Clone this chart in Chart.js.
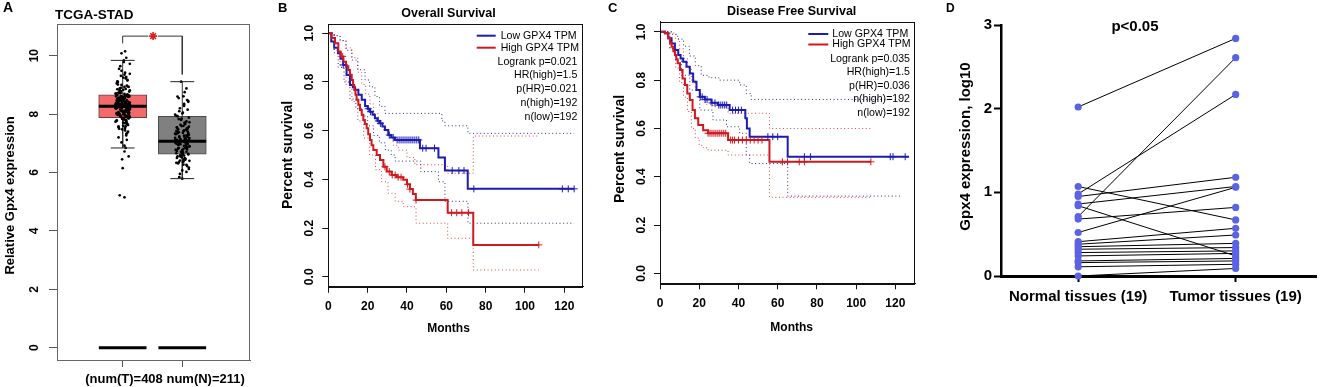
<!DOCTYPE html>
<html>
<head>
<meta charset="utf-8">
<title>GPX4 expression and survival</title>
<script src="https://cdn.jsdelivr.net/npm/chart.js@4.4.1/dist/chart.umd.min.js"></script>
<style>
html,body{margin:0;padding:0;background:#fff;}
body{position:relative;width:1320px;height:387px;overflow:hidden;}
canvas{position:absolute;top:0;}
</style>
</head>
<body>
<canvas id="panelA" width="258" height="387" style="left:0px;width:258px;height:387px"></canvas>
<canvas id="panelB" width="330" height="387" style="left:258px;width:330px;height:387px"></canvas>
<canvas id="panelC" width="330" height="387" style="left:590px;width:330px;height:387px"></canvas>
<canvas id="panelD" width="380" height="387" style="left:940px;width:380px;height:387px"></canvas>
<script>
// ================= DATA =================
// ---- Panel A: TCGA-STAD box plot ----
const boxGroups = ['Tumor', 'Normal'];
const boxPos = [1, 2];
const boxQ1 = [7.88, 6.63];
const boxMedian = [8.27, 7.07];
const boxQ3 = [8.66, 7.92];
const whiskerLow = [6.84, 5.79];
const whiskerHigh = [9.84, 9.11];
const yTicksA = [0, 2, 4, 6, 8, 10];
const xLabelA = '(num(T)=408 num(N)=211)';
const sigBracket = [10.42, 10.67, 9.36]; // left end, bar level, right end
const tumorExpr = [
8.27,8.41,7.95,8.62,8.13,9.05,7.71,8.33,8.88,7.52,8.19,8.47,9.31,7.98,8.55,8.06,7.36,8.71,8.24,9.12,
7.84,8.39,8.02,8.93,7.63,8.29,8.58,7.91,9.48,8.15,8.36,7.44,8.79,8.09,8.51,7.77,8.98,8.22,9.22,7.58,
8.44,8.31,7.89,8.67,8.11,9.64,7.27,8.38,8.83,8.04,8.26,7.69,8.6,8.17,9.01,7.96,8.49,8.34,7.12,8.74,
8.2,8.56,7.81,9.17,8.0,8.43,7.48,8.69,8.28,9.38,7.93,8.12,8.53,7.6,8.86,8.25,8.37,7.03,8.64,9.55,
8.08,8.46,7.87,8.77,8.18,9.27,7.74,8.32,8.59,7.99,8.95,8.21,6.92,8.4,9.72,7.55,8.14,8.5,7.85,9.08,
8.3,8.72,7.67,8.23,9.42,8.05,8.61,7.32,8.35,9.84,8.16,7.9,8.54,6.84,8.45,9.15,7.79,8.27,8.81,7.2,
10.08,10.15,9.93,6.72,6.55,6.45,6.15,5.22,5.15,9.78,
8.35,8.02,8.58,7.92,8.44,8.18,8.71,7.83,8.29,8.52,8.1,8.63,7.97,8.38,8.24,8.79,7.75,8.47,8.06,8.33,
8.56,7.88,8.2,8.68,8.12,8.41,7.94,8.5,8.27,8.85,7.7,8.15,8.6,8.03,8.36,8.22,8.74,7.86,8.45,8.09,
8.31,8.66,7.99,8.53,8.17,8.9,7.8,8.4,8.26,8.57,8.0,8.7,8.13,8.34,7.9,8.48,8.21,8.62,7.96,8.39,
9.0,7.65,8.3,8.55,8.07,8.44,8.19,8.82,7.78,8.28,9.25,7.4,8.6,8.11,9.1,7.58,8.37,8.93,7.5,9.35];
const tumorJitter = [
0.03,-0.08,0.11,-0.02,0.06,-0.1,0.01,0.09,-0.05,0.04,-0.11,0.07,-0.03,0.1,-0.07,0.02,0.08,-0.04,0.05,-0.09,
-0.01,0.12,-0.06,0.03,0.09,-0.12,0.0,0.06,-0.02,0.11,-0.08,0.04,-0.05,0.1,0.02,-0.1,0.07,-0.03,0.05,-0.07,
0.08,-0.01,0.12,-0.09,0.03,-0.04,0.06,-0.11,0.01,0.09,-0.06,0.04,-0.02,0.1,-0.08,0.05,0.0,-0.12,0.07,-0.03,
0.11,-0.05,0.02,0.08,-0.1,0.06,-0.01,0.03,-0.07,0.12,-0.04,0.09,-0.09,0.01,0.05,-0.11,0.1,-0.02,0.04,-0.06,
0.07,-0.08,0.0,0.11,-0.03,0.06,-0.12,0.02,0.09,-0.05,0.08,-0.01,0.03,-0.1,0.12,-0.07,0.05,-0.04,0.1,-0.09,
0.01,-0.06,0.07,-0.02,0.04,0.11,-0.11,0.06,-0.08,0.02,0.09,-0.03,0.0,0.05,-0.05,0.08,-0.1,0.03,0.12,-0.07,
-0.02,0.04,0.06,0.03,0.1,-0.01,0.0,-0.05,0.03,0.02,
0.05,-0.09,0.02,0.1,-0.04,0.07,-0.11,0.0,0.08,-0.06,-0.02,0.11,-0.08,0.04,0.09,-0.03,0.06,-0.1,0.01,0.12,
-0.07,0.03,-0.12,0.08,-0.01,0.05,0.1,-0.05,0.02,-0.09,0.07,-0.04,0.11,-0.1,0.0,0.06,-0.07,0.09,-0.02,0.04,
-0.11,0.08,0.01,-0.06,0.12,-0.03,0.05,-0.08,0.1,-0.01,0.03,-0.12,0.07,-0.05,0.09,0.0,-0.09,0.06,-0.04,0.11,
-0.02,0.08,-0.1,0.04,-0.07,0.02,0.12,-0.05,0.06,-0.11,0.01,0.09,-0.03,0.07,-0.08,0.05,-0.01,0.1,-0.06,0.03];
const normalExpr = [
7.05,6.71,7.42,6.38,7.88,6.95,7.21,6.52,8.15,7.1,6.84,7.63,6.22,7.34,6.67,8.42,7.0,6.45,7.55,6.9,
7.18,6.6,8.05,6.78,7.27,6.31,7.71,7.08,6.56,8.61,6.99,7.46,6.12,7.14,6.73,7.93,6.87,7.38,6.48,8.28,
7.03,6.64,7.59,6.02,7.24,6.81,8.75,7.12,6.4,7.8,6.93,7.31,6.58,8.48,7.06,6.69,7.5,5.95,7.16,6.76,
8.02,7.29,6.35,7.67,6.97,8.88,6.62,7.4,6.27,7.98,7.09,6.53,7.22,5.84,8.35,6.89,7.53,6.44,9.11,7.01,
6.82,7.36,6.17,8.2,7.13,6.66,7.75,5.79,8.55,7.44,
7.02,6.74,7.35,6.58,7.6,6.86,7.19,6.49,7.83,7.11,6.68,7.47,6.33,7.26,6.9,8.1,6.77,7.4,6.55,7.66,
7.07,6.63,7.52,6.41,7.3,6.95,8.32,6.71,7.15,6.5,7.72,6.84,7.42,6.26,7.94,7.04,6.6,7.57,6.07,8.6,
6.98,7.33,6.46,7.85,6.79,7.2,8.45,6.91,7.48,6.36];
const normalJitter = [
-0.04,0.07,-0.1,0.02,0.11,-0.06,0.04,-0.01,0.09,-0.12,0.05,-0.03,0.08,-0.08,0.0,0.1,-0.05,0.03,-0.09,0.06,
0.12,-0.02,0.01,-0.11,0.07,-0.07,0.04,0.09,-0.04,0.02,-0.1,0.06,0.11,-0.03,0.0,-0.08,0.08,-0.06,0.05,0.03,
-0.12,0.1,-0.01,0.07,-0.05,0.02,0.04,-0.09,0.12,-0.02,0.06,-0.11,0.03,0.08,-0.07,0.01,0.09,-0.04,0.05,-0.1,
0.0,0.11,-0.06,0.04,-0.03,0.07,0.1,-0.08,0.02,-0.12,0.06,-0.01,0.09,-0.05,0.03,0.12,-0.09,0.05,-0.02,0.08,
-0.07,0.01,0.11,-0.04,0.04,-0.1,0.07,0.0,-0.06,0.03,
0.06,-0.09,0.1,-0.03,0.02,0.08,-0.12,0.04,-0.06,0.11,-0.01,0.07,-0.1,0.03,0.12,-0.05,0.0,0.09,-0.08,0.05,
-0.11,0.01,0.08,-0.04,0.1,-0.07,0.03,-0.02,0.06,-0.09,0.12,-0.06,0.02,0.07,-0.1,0.04,-0.03,0.11,0.0,-0.08,
0.09,-0.12,0.05,-0.01,0.08,-0.05,0.1,0.03,-0.07,0.01];

// ---- Panels B & C: Kaplan-Meier ----
const kmSeries = ['Low GPX4 TPM', 'High GPX4 TPM'];
const kmXTicks = [0, 20, 40, 60, 80, 100, 120];
const kmYTicks = [0, 0.2, 0.4, 0.6, 0.8, 1.0];
const statsB = ['Logrank p=0.021', 'HR(high)=1.5', 'p(HR)=0.021', 'n(high)=192', 'n(low)=192'];
const statsC = ['Logrank p=0.035', 'HR(high)=1.5', 'p(HR)=0.036', 'n(high)=192', 'n(low)=192'];

// Overall survival (B)
const osLowT = [0,1.5,3,4.9,6.2,7.6,9.3,11,12.5,13.6,15.3,17,18.7,20,21.2,22.5,23.7,25,26.3,27.5,28.8,30.5,32,33.9,46.6,56,59.3,70.9,125];
const osLowS = [1,0.966,0.94,0.918,0.895,0.87,0.829,0.788,0.778,0.768,0.747,0.727,0.701,0.69,0.678,0.665,0.651,0.64,0.63,0.617,0.603,0.582,0.572,0.562,0.528,0.49,0.436,0.361,0.361];
const osHighT = [0,1.7,3.4,5.1,6.3,7.6,9,10.2,11,11.9,12.6,13.2,13.8,14.4,15.3,16.1,17,17.8,18.6,19.5,20.3,21.2,22,22.9,24.6,26.3,28,29.7,32.2,34.8,38.1,40,41.5,43,44.5,60.7,73.7,107];
const osHighS = [1,0.98,0.959,0.924,0.905,0.883,0.865,0.849,0.83,0.808,0.788,0.767,0.747,0.727,0.706,0.685,0.665,0.644,0.627,0.61,0.585,0.562,0.54,0.521,0.5,0.48,0.452,0.432,0.418,0.409,0.398,0.38,0.36,0.34,0.315,0.263,0.131,0.131];
const osLowUpT = [0,3,6,9,12,15,18.7,21,23.7,26,28.8,57.7,59.3,71,125];
const osLowUpS = [1,0.99,0.97,0.93,0.89,0.85,0.808,0.78,0.74,0.7,0.671,0.64,0.62,0.589,0.589];
const osLowLoT = [0,3,5,8,11,14,17,20,23,26,29,32,34,47,56,59.3,71,125];
const osLowLoS = [1,0.92,0.86,0.8,0.73,0.69,0.66,0.62,0.58,0.55,0.52,0.5,0.475,0.432,0.39,0.31,0.22,0.22];
const osHighUpT = [0,3,6,9,12,15,17,19,21.2,23,25.4,28,30.5,33,35.6,40,44,60.7,73.7,107];
const osHighUpS = [1,0.99,0.97,0.94,0.9,0.84,0.79,0.75,0.71,0.67,0.63,0.6,0.57,0.54,0.52,0.49,0.46,0.425,0.578,0.578];
const osHighLoT = [0,3,6,9,12,15,18,21,24,27,30.4,34,38.1,44.6,60.7,73.7,107];
const osHighLoS = [1,0.93,0.86,0.79,0.72,0.64,0.57,0.5,0.44,0.39,0.343,0.31,0.288,0.22,0.158,0.028,0.028];
const osLowCensor = [7.6,20.3,21.5,25.4,26.5,31,33,35,36,37,38,39,40,41,42,43,44,45,46,48,49.7,54,63,66.4,69,74,119,122,125];
const osHighCensor = [7.3,28.8,31,32.5,34,35.5,37,40.3,41.5,44.6,62.7,65.3,67.9,71.3,107];

// Disease free survival (C)
const dfsLowT = [0,2.5,4.2,5.9,7.6,9.3,10.5,11.8,13.5,15.2,16.9,18.6,20.3,22.8,26.2,29.6,35.5,43.5,44.3,45.7,65.1,126.9];
const dfsLowS = [1,0.994,0.973,0.952,0.925,0.904,0.89,0.876,0.855,0.828,0.793,0.759,0.731,0.72,0.706,0.697,0.676,0.642,0.6,0.566,0.483,0.483];
const dfsHighT = [0,2.5,4.2,5.1,5.9,6.8,7.6,8.3,9,10.2,11.5,12.7,13.9,15.2,16.6,17.8,19.5,22,24.5,34.7,55.8,107.5];
const dfsHighS = [1,0.994,0.973,0.955,0.938,0.92,0.904,0.887,0.87,0.842,0.807,0.78,0.745,0.718,0.676,0.642,0.614,0.593,0.58,0.552,0.462,0.462];
const dfsLowUpT = [0,6,9,12,15,18,21,25,30,34,40.6,44,46.5,123];
const dfsLowUpS = [1,0.99,0.97,0.94,0.9,0.86,0.82,0.81,0.8,0.8,0.78,0.745,0.72,0.72];
const dfsLowLoT = [0,5,8,11,15.2,20.3,27,33.9,40.6,44,45.7,65.1,123];
const dfsLowLoS = [1,0.93,0.88,0.82,0.759,0.676,0.635,0.607,0.58,0.49,0.455,0.32,0.32];
const dfsHighUpT = [0,6,8,10,12,14,16,18,20,23,27,34.7,55.8,107.5];
const dfsHighUpS = [1,0.995,0.97,0.93,0.89,0.85,0.8,0.76,0.72,0.7,0.69,0.663,0.6,0.6];
const dfsHighLoT = [0,5,8,10,12,14,16,18,20,22,24.5,34.7,55.8,107.5];
const dfsHighLoS = [1,0.93,0.85,0.79,0.73,0.67,0.6,0.56,0.53,0.52,0.51,0.49,0.315,0.315];
const dfsLowCensor = [20.5,21.5,23,24,26.5,28,30,31,32,33,34,37,38.5,40,41.5,55,57.5,60,73.6,76.7,117.4,118.8,125];
const dfsHighCensor = [24.5,25.5,26.5,27.5,28.5,29.5,30.5,31.5,32.5,33.5,36,37,38,40,42,44,46,48,50,52,62.4,65,71,73.6,107.5];

// ---- Panel D: paired samples ----
const dCategories = ['Normal tissues (19)', 'Tumor tissues (19)'];
const dYTicks = [0, 1, 2, 3];
const dNormal = [2.02,1.07,0.98,0.95,0.86,0.84,0.71,0.68,0.52,0.41,0.38,0.35,0.32,0.28,0.24,0.18,0.16,0.11,0.00];
const dTumor  = [2.84,0.67,2.17,1.18,1.07,0.24,2.61,0.82,1.06,0.57,0.49,0.39,0.34,0.30,0.27,0.21,0.18,0.14,0.09];
const dPValue = 'p<0.05';

// ================= RENDER =================
const FF = "'Liberation Sans', Arial, Helvetica, sans-serif";
Chart.defaults.font.family = FF;
Chart.defaults.color = '#000';
const BLUE = 'rgb(28,28,178)';
const RED = 'rgb(208,24,30)';
const BLUE_CI = 'rgb(45,45,140)';
const RED_CI = 'rgb(212,70,70)';

const annot = {
  id: 'annot',
  afterDraw(chart, args, opts) {
    const ctx = chart.ctx;
    const ca = chart.chartArea;
    ctx.save();
    if (opts.box) {
      ctx.strokeStyle = opts.box; ctx.lineWidth = 1;
      ctx.strokeRect(Math.round(ca.left) + 0.5, Math.round(ca.top) + 0.5,
                     Math.round(ca.right - ca.left) - 1, Math.round(ca.bottom - ca.top));
    }
    (opts.items || []).forEach(it => {
      if (it.line) {
        ctx.beginPath(); ctx.strokeStyle = it.color; ctx.lineWidth = it.width || 1;
        ctx.moveTo(it.line[0], it.line[1]); ctx.lineTo(it.line[2], it.line[3]); ctx.stroke();
        return;
      }
      ctx.save();
      ctx.translate(it.x, it.y);
      if (it.rot) ctx.rotate(it.rot * Math.PI / 180);
      ctx.font = it.font + ' ' + FF;
      ctx.fillStyle = it.color || '#000';
      ctx.textAlign = it.align || 'center';
      ctx.textBaseline = 'middle';
      ctx.fillText(it.text, 0, 0);
      ctx.restore();
    });
    ctx.restore();
  }
};

const baseOpts = {
  responsive: false, animation: false, devicePixelRatio: 1, events: [],
};
const fixedTicks = arr => s => { s.ticks = arr.map(v => ({ value: v })); };

// ---------- Panel A ----------
(function () {
  const ds = [];
  ds.push({
    type: 'bar',
    data: boxPos.map((c, i) => ({ x: c, y: [boxQ1[i], boxQ3[i]] })),
    backgroundColor: ['#F26A6A', '#808080'],
    borderColor: ['#6a4040', '#4a4a4a'],
    borderWidth: 1, borderSkipped: false, barThickness: 48, order: 9
  });
  boxPos.forEach((c, i) => {
    ds.push({ type: 'line', data: [{x: c, y: boxQ3[i]}, {x: c, y: whiskerHigh[i]}], borderColor: '#333', borderWidth: 1, pointRadius: 0, order: 8 });
    ds.push({ type: 'line', data: [{x: c, y: boxQ1[i]}, {x: c, y: whiskerLow[i]}], borderColor: '#333', borderWidth: 1, pointRadius: 0, order: 8 });
    ds.push({ type: 'line', data: [{x: c - 0.2, y: whiskerHigh[i]}, {x: c + 0.2, y: whiskerHigh[i]}], borderColor: '#222', borderWidth: 1, pointRadius: 0, order: 2 });
    ds.push({ type: 'line', data: [{x: c - 0.2, y: whiskerLow[i]}, {x: c + 0.2, y: whiskerLow[i]}], borderColor: '#222', borderWidth: 1, pointRadius: 0, order: 2 });
    ds.push({ type: 'line', data: [{x: c - 0.4, y: boxMedian[i]}, {x: c + 0.4, y: boxMedian[i]}], borderColor: '#000', borderWidth: 3, pointRadius: 0, order: 1 });
    ds.push({ type: 'line', data: [{x: c - 0.4, y: 0}, {x: c + 0.4, y: 0}], borderColor: '#000', borderWidth: 3, pointRadius: 0, order: 1 });
  });
  ds.push({ type: 'scatter', data: tumorExpr.map((v, i) => ({ x: boxPos[0] + tumorJitter[i], y: v })),
            pointRadius: 1.35, backgroundColor: '#000', borderColor: '#000', borderWidth: 0, order: 3 });
  ds.push({ type: 'scatter', data: normalExpr.map((v, i) => ({ x: boxPos[1] + normalJitter[i], y: v })),
            pointRadius: 1.35, backgroundColor: '#000', borderColor: '#000', borderWidth: 0, order: 3 });
  ds.push({ type: 'line', data: [
      {x: boxPos[0], y: sigBracket[0]}, {x: boxPos[0], y: sigBracket[1]}, {x: 1.43, y: sigBracket[1]},
      {x: 1.5, y: null},
      {x: 1.59, y: sigBracket[1]}, {x: boxPos[1], y: sigBracket[1]}, {x: boxPos[1], y: sigBracket[2]}],
    borderColor: '#333', borderWidth: 1, pointRadius: 0, spanGaps: false, order: 1 });
  ds.push({ type: 'scatter', data: [{x: 1.51, y: sigBracket[1]}], pointStyle: 'star', pointRadius: 4,
            borderColor: 'rgb(220,30,30)', borderWidth: 1.6, order: 0 });

  new Chart(document.getElementById('panelA'), {
    type: 'bar',
    data: { datasets: ds },
    options: Object.assign({}, baseOpts, {
      layout: { padding: { left: 0, top: 24, right: 8, bottom: 0 } },
      plugins: { legend: { display: false }, tooltip: { enabled: false },
        annot: { box: '#666', items: [
          { text: 'A', x: 3, y: 8.5, font: 'bold 14px', align: 'left' },
          { text: 'TCGA-STAD', x: 55, y: 15.7, font: 'bold 13.5px', align: 'left' },
          { text: 'Relative Gpx4 expression', x: 10, y: 195.5, rot: -90, font: 'bold 13px' },
          { text: xLabelA, x: 165, y: 379, font: 'bold 13px' }
        ] } },
      scales: {
        x: { type: 'linear', min: -0.102, max: 3.136, offset: false, afterBuildTicks: fixedTicks(boxPos),
             ticks: { callback: () => '', autoSkip: false, maxRotation: 0 },
             grid: { drawOnChartArea: false, offset: false, tickLength: 7, color: '#555' },
             border: { color: '#666' }, afterFit: s => { s.height = 27; } },
        y: { type: 'linear', min: -0.42, max: 11.085, afterBuildTicks: fixedTicks(yTicksA),
             ticks: { font: { size: 12, weight: 'bold' }, color: '#000', minRotation: 90, maxRotation: 90,
                      crossAlign: 'center', padding: 8, callback: v => String(v) },
             grid: { drawOnChartArea: false, tickLength: 8, color: '#555' },
             border: { color: '#666' }, afterFit: s => { s.width = 57; } }
      }
    }),
    plugins: [annot]
  });
})();

// ---------- Panels B & C ----------
const km = (T, S) => T.map((t, i) => ({ x: t, y: S[i] }));
const stepAt = (T, S, t) => { let v = S[0]; for (let i = 0; i < T.length; i++) { if (T[i] <= t) v = S[i]; } return v; };

function kmChart(id, cfg) {
  const line = (T, S, color, w, dash, order) => ({
    type: 'line', data: km(T, S), stepped: true, borderColor: color, borderWidth: w,
    borderDash: dash || [], pointRadius: 0, order: order, tension: 0
  });
  const ds = [
    line(cfg.lowUp[0], cfg.lowUp[1], BLUE_CI, 1, [1, 2.6], 6),
    line(cfg.lowLo[0], cfg.lowLo[1], BLUE_CI, 1, [1, 2.6], 6),
    line(cfg.highUp[0], cfg.highUp[1], RED_CI, 1, [1, 2.6], 6),
    line(cfg.highLo[0], cfg.highLo[1], RED_CI, 1, [1, 2.6], 6),
    line(cfg.low[0], cfg.low[1], BLUE, 2, null, 3),
    line(cfg.high[0], cfg.high[1], RED, 2, null, 2),
    { type: 'scatter', data: cfg.lowCens.map(t => ({ x: t, y: stepAt(cfg.low[0], cfg.low[1], t) })),
      pointStyle: 'cross', pointRadius: 3.5, borderColor: BLUE, borderWidth: 1, order: 1 },
    { type: 'scatter', data: cfg.highCens.map(t => ({ x: t, y: stepAt(cfg.high[0], cfg.high[1], t) })),
      pointStyle: 'cross', pointRadius: 3.5, borderColor: RED, borderWidth: 1, order: 0 }
  ];
  const L = cfg.leg;
  const items = [
    { text: cfg.letter, x: cfg.letterX, y: 8, font: 'bold 13px', align: 'left' },
    { text: cfg.title, x: cfg.titleX, y: cfg.titleY, font: 'bold 12.5px' },
    { text: 'Percent survival', x: cfg.ylabX, y: cfg.ylabY, rot: -90, font: 'bold 14px' },
    { text: 'Months', x: cfg.titleX, y: cfg.xlabY, font: 'bold 12px' },
    { line: [L.lx1, L.y1, L.lx2, L.y1], color: BLUE, width: 2 },
    { line: [L.lx1, L.y2, L.lx2, L.y2], color: RED, width: 2 },
    { text: kmSeries[0], x: L.tx, y: L.y1, font: '10.6px', align: 'left' },
    { text: kmSeries[1], x: L.tx, y: L.y2, font: '10.6px', align: 'left' }
  ];
  cfg.stats.forEach((s, i) => items.push({ text: s, x: L.rx, y: L.ys[i], font: '10.6px', align: 'right' }));

  new Chart(document.getElementById(id), {
    type: 'line',
    data: { datasets: ds },
    options: Object.assign({}, baseOpts, {
      layout: { padding: { left: 0, top: cfg.top, right: cfg.padR, bottom: 0 } },
      plugins: { legend: { display: false }, tooltip: { enabled: false }, annot: { box: '#111', items: items } },
      scales: {
        x: { type: 'linear', min: 0, max: cfg.xmax, afterBuildTicks: fixedTicks(kmXTicks),
             ticks: { font: { size: 12, weight: 'bold' }, color: '#000', padding: 7, autoSkip: false, maxRotation: 0, callback: v => String(v) },
             grid: { drawOnChartArea: false, tickLength: 6, color: '#111' },
             border: { color: '#111' }, afterFit: s => { s.height = cfg.xh; } },
        y: { type: 'linear', min: cfg.ymin, max: cfg.ymax, afterBuildTicks: fixedTicks(kmYTicks),
             ticks: { font: { size: 12, weight: 'bold' }, color: '#000', minRotation: 90, maxRotation: 90,
                      crossAlign: 'center', padding: 4, callback: v => v.toFixed(1) },
             grid: { drawOnChartArea: false, tickLength: 6, color: '#111' },
             border: { color: '#111' }, afterFit: s => { s.width = cfg.yw; } }
      }
    }),
    plugins: [annot]
  });
}

kmChart('panelB', {
  low: [osLowT, osLowS], high: [osHighT, osHighS],
  lowUp: [osLowUpT, osLowUpS], lowLo: [osLowLoT, osLowLoS],
  highUp: [osHighUpT, osHighUpS], highLo: [osHighLoT, osHighLoS],
  lowCens: osLowCensor, highCens: osHighCensor,
  stats: statsB, letter: 'B', letterX: 20, title: 'Overall Survival', titleX: 190.5, titleY: 14,
  ylabX: 30.3, ylabY: 155, xlabY: 328.3,
  leg: { lx1: 218.7, lx2: 237.7, tx: 242.7, y1: 35.7, y2: 47.7, rx: 319.3, ys: [61.7, 75.3, 89.3, 103.3, 117] },
  top: 24, padR: 5, xh: 100.3, yw: 70.3, xmax: 129.5, ymin: -0.0407, ymax: 1.038
});

kmChart('panelC', {
  low: [dfsLowT, dfsLowS], high: [dfsHighT, dfsHighS],
  lowUp: [dfsLowUpT, dfsLowUpS], lowLo: [dfsLowLoT, dfsLowLoS],
  highUp: [dfsHighUpT, dfsHighUpS], highLo: [dfsHighLoT, dfsHighLoS],
  lowCens: dfsLowCensor, highCens: dfsHighCensor,
  stats: statsC, letter: 'C', letterX: 18, title: 'Disease Free Survival', titleX: 201.7, titleY: 12,
  ylabX: 30, ylabY: 149, xlabY: 327.3,
  leg: { lx1: 218.3, lx2: 238.3, tx: 242.3, y1: 34, y2: 44.5, rx: 320, ys: [59.3, 72, 86, 99.3, 113.3] },
  top: 21.7, padR: 4, xh: 103.7, yw: 70, xmax: 130, ymin: -0.041, ymax: 1.042
});

// ---------- Panel D ----------
(function () {
  const PT = 'rgb(92,98,228)';
  const ds = dNormal.map((n, i) => ({
    type: 'line', data: [{ x: 0, y: n }, { x: 1, y: dTumor[i] }],
    borderColor: '#000', borderWidth: 1, pointRadius: 0, order: 2, clip: false
  }));
  ds.push({ type: 'scatter',
    data: dNormal.map(v => ({ x: 0, y: v })).concat(dTumor.map(v => ({ x: 1, y: v }))),
    pointRadius: 3.6, backgroundColor: PT, borderColor: PT, borderWidth: 0, order: 1, clip: false });

  new Chart(document.getElementById('panelD'), {
    type: 'line',
    data: { datasets: ds },
    options: Object.assign({}, baseOpts, {
      layout: { padding: { left: 0, top: 25, right: 1.7, bottom: 0 } },
      plugins: { legend: { display: false }, tooltip: { enabled: false },
        annot: { items: [
          { text: 'D', x: 6, y: 8.3, font: 'bold 12px', align: 'left' },
          { text: dPValue, x: 195, y: 26.7, font: 'bold 15px' },
          { text: 'Gpx4 expression, log10', x: 26, y: 146.5, rot: -90, font: 'bold 15px' }
        ] } },
      scales: {
        x: { type: 'linear', min: -0.49, max: 1.51, afterBuildTicks: fixedTicks([0, 1]),
             ticks: { font: { size: 15, weight: 'bold' }, color: '#000', padding: 6, autoSkip: false, maxRotation: 0,
                      callback: v => dCategories[v] || '' },
             grid: { drawOnChartArea: false, tickLength: 6, tickWidth: 2, color: '#000' },
             border: { color: '#000', width: 3 }, afterFit: s => { s.height = 111; } },
        y: { type: 'linear', min: 0, max: 3, afterBuildTicks: fixedTicks(dYTicks),
             ticks: { font: { size: 15, weight: 'bold' }, color: '#000', padding: 2, callback: v => String(v) },
             grid: { drawOnChartArea: false, tickLength: 7, tickWidth: 2, color: '#000' },
             border: { color: '#000', width: 2.5 }, afterFit: s => { s.width = 61; } }
      }
    }),
    plugins: [annot]
  });
})();
</script>
</body>
</html>
